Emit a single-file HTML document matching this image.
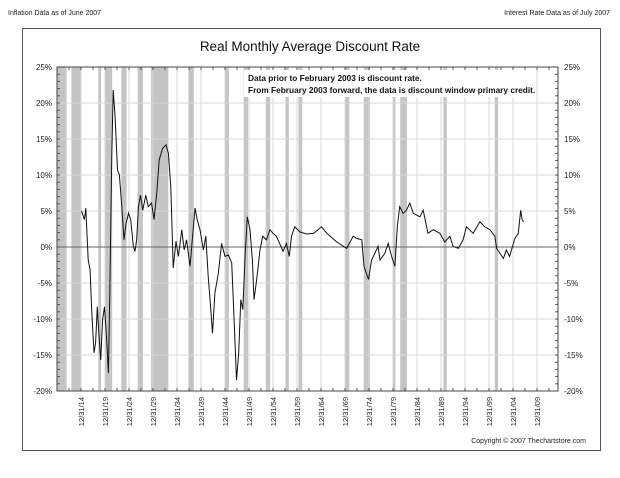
<!DOCTYPE html>
<html><head><meta charset="utf-8"><style>
body{margin:0;background:#fff;}
svg{display:block;font-family:"Liberation Sans",Arial,sans-serif;}
</style></head><body>
<svg id="chart" width="620" height="478" viewBox="0 0 620 478">
<text x="8" y="15" font-size="7" fill="#222">Inflation Data as of June 2007</text>
<text x="610" y="15" font-size="7" fill="#222" text-anchor="end">Interest Rate Data as of July 2007</text>
<rect x="22.5" y="28.5" width="578" height="422" fill="#fff" stroke="#555" stroke-width="1"/>
<text x="310" y="51" font-size="13.5" text-anchor="middle" fill="#111">Real Monthly Average Discount Rate</text>
<g id="bars"></g><g id="grid"></g><g id="axes"></g><g id="series"></g>
<rect x="244" y="70" width="283" height="27" fill="#fff"/>
<text x="248" y="81" font-size="8.3" font-weight="bold" fill="#111">Data prior to February 2003 is discount rate.</text>
<text x="248" y="93" font-size="8.3" font-weight="bold" fill="#111">From February 2003 forward, the data is discount window primary credit.</text>
<text x="586" y="443" font-size="7" text-anchor="end" fill="#222">Copyright © 2007 Thechartstore.com</text>
</svg>
<script>
const recessionStarts=[1910.0,1913.0,1918.6,1920.0,1923.4,1926.8,1929.6,1937.4,1945.1,1948.9,1953.5,1957.6,1960.3,1969.9,1973.9,1980.0,1981.5,1990.5,2001.2];
const recessionEnds=[1912.0,1914.9,1919.2,1921.5,1924.5,1927.9,1933.2,1938.5,1945.8,1949.8,1954.4,1958.3,1961.1,1970.9,1975.2,1980.5,1982.9,1991.2,2001.9];
const yTicks=[25,20,15,10,5,0,-5,-10,-15,-20];
const xTickLabels=["12/31/14","12/31/19","12/31/24","12/31/29","12/31/34","12/31/39","12/31/44","12/31/49","12/31/54","12/31/59","12/31/64","12/31/69","12/31/74","12/31/79","12/31/84","12/31/89","12/31/94","12/31/99","12/31/04","12/31/09"];
const xTickYears=[1915,1920,1925,1930,1935,1940,1945,1950,1955,1960,1965,1970,1975,1980,1985,1990,1995,2000,2005,2010];
const dates=[1915.1,1915.7,1916.0,1916.5,1916.9,1917.2,1917.7,1918.05,1918.4,1918.75,1919.1,1919.5,1919.9,1920.35,1920.7,1921.0,1921.4,1921.7,1922.1,1922.6,1923.0,1923.5,1923.95,1924.4,1924.9,1925.35,1925.9,1926.25,1926.6,1926.95,1927.4,1927.85,1928.5,1929.0,1929.7,1930.2,1930.8,1931.3,1932.0,1932.7,1933.2,1933.7,1934.2,1934.8,1935.3,1936.0,1936.5,1937.0,1937.7,1938.25,1938.75,1939.2,1939.8,1940.5,1941.0,1941.5,1942.0,1942.4,1942.9,1943.6,1944.3,1945.0,1945.7,1946.4,1946.9,1947.4,1947.85,1948.3,1948.7,1949.2,1949.65,1950.2,1950.7,1951.05,1951.6,1952.3,1952.85,1953.65,1954.35,1955.0,1955.7,1957.1,1957.8,1958.4,1958.85,1959.55,1960.6,1962.0,1963.5,1965.1,1966.2,1968.3,1970.35,1971.7,1972.4,1973.5,1973.95,1974.9,1975.55,1976.9,1977.3,1978.3,1979.0,1979.7,1980.4,1980.9,1981.4,1982.1,1982.8,1983.5,1984.2,1985.6,1986.3,1987.3,1988.4,1989.75,1990.8,1991.85,1992.5,1993.6,1994.6,1995.3,1996.7,1998.1,1999.1,2000.2,2001.2,2001.6,2003.0,2003.6,2004.3,2005.4,2006.1,2006.6,2006.9,2007.2];
const values=[5.0,3.8,5.4,-1.8,-3.2,-8.5,-14.7,-13.3,-8.3,-12.4,-15.7,-10.1,-8.3,-12.9,-17.5,-6.4,12.1,21.8,18.1,10.7,10.0,5.6,1.0,3.3,4.7,3.8,0.1,-0.6,1.0,5.6,7.2,5.1,7.2,5.6,6.1,3.8,7.5,12.1,13.7,14.2,13.0,8.4,-2.9,0.8,-1.3,2.4,-0.4,1.0,-2.7,1.5,5.4,3.8,2.4,-0.4,1.5,-4.1,-8.3,-12.0,-6.4,-3.7,0.5,-1.3,-1.1,-2.2,-10.1,-18.5,-14.7,-7.3,-8.7,-0.9,4.2,2.4,-1.8,-7.3,-4.5,-0.4,1.5,1.0,2.4,1.9,1.5,-0.6,0.5,-1.3,1.5,2.8,2.1,1.8,1.9,2.8,1.9,0.7,-0.2,1.5,1.2,1.0,-2.7,-4.5,-1.8,0.1,-1.8,-0.9,0.5,-1.3,-2.7,2.8,5.6,4.7,5.1,6.1,4.7,4.2,5.1,1.9,2.4,1.9,0.7,1.5,0.1,-0.2,1.0,2.8,1.9,3.5,2.8,2.4,1.5,-0.2,-1.6,-0.4,-1.3,1.2,1.9,5.1,3.8,3.5];

const NS="http://www.w3.org/2000/svg";
const L=57,R=558,T=67,B=391;
function xs(t){return 81+(t-1915)*4.8;}
function ys(v){return 247-v*7.2;}
function mk(tag,attrs,parent){const e=document.createElementNS(NS,tag);for(const k in attrs)e.setAttribute(k,attrs[k]);parent.appendChild(e);return e;}
const gBars=document.getElementById('bars'),gGrid=document.getElementById('grid'),gAxes=document.getElementById('axes'),gSer=document.getElementById('series');
recessionStarts.forEach((s,i)=>{
  const x0=Math.max(L,xs(s)),x1=Math.min(R,xs(recessionEnds[i]));
  const r=mk('rect',{x:x0,y:T,width:x1-x0,height:B-T,fill:'#c4c4c4'},gBars);
  
  
});
yTicks.forEach(v=>{
  const y=ys(v);
  if(v!==0&&v!==25&&v!==-20){const g=mk('line',{x1:L,x2:R,y1:y,y2:y,stroke:'#d8d8d8','stroke-width':1},gGrid);
  
  }
  const t1=mk('text',{x:52,y:y+3,'font-size':8,'text-anchor':'end',fill:'#222'},gAxes);t1.textContent=v+'%';
  
  
  const t2=mk('text',{x:564,y:y+3,'font-size':8,fill:'#222'},gAxes);t2.textContent=v+'%';
  
  
});
for(let v=-20;v<=25;v++){const y=ys(v);mk('line',{x1:L,x2:L+3,y1:y,y2:y,stroke:'#555'},gAxes);mk('line',{x1:R-3,x2:R,y1:y,y2:y,stroke:'#555'},gAxes);}
xTickYears.forEach((yr,i)=>{
  const x=xs(yr);
  if(x<R){const g=mk('line',{x1:x,x2:x,y1:T,y2:B,stroke:'#d8d8d8'},gGrid);
  
  }
  const t=mk('text',{x:0,y:0,'font-size':7.5,'text-anchor':'end',fill:'#222',transform:`translate(${x+3},${B+6}) rotate(-90)`},gAxes);
  t.textContent=xTickLabels[i];
  
  
});
for(let yr=1910;yr<=2014;yr+=2.5){const x=xs(yr);mk('line',{x1:x,x2:x,y1:B-3,y2:B,stroke:'#555'},gAxes);mk('line',{x1:x,x2:x,y1:T,y2:T+3,stroke:'#555'},gAxes);}
const z=mk('line',{x1:L,x2:R,y1:ys(0),y2:ys(0),stroke:'#666','stroke-width':1},gGrid);


const fr=mk('rect',{x:L,y:T,width:R-L,height:B-T,fill:'none',stroke:'#444'},gAxes);


const p=mk('polyline',{points:dates.map((d,i)=>xs(d).toFixed(1)+','+ys(values[i]).toFixed(1)).join(' '),fill:'none',stroke:'#111','stroke-width':1},gSer);


</script>
</body></html>
